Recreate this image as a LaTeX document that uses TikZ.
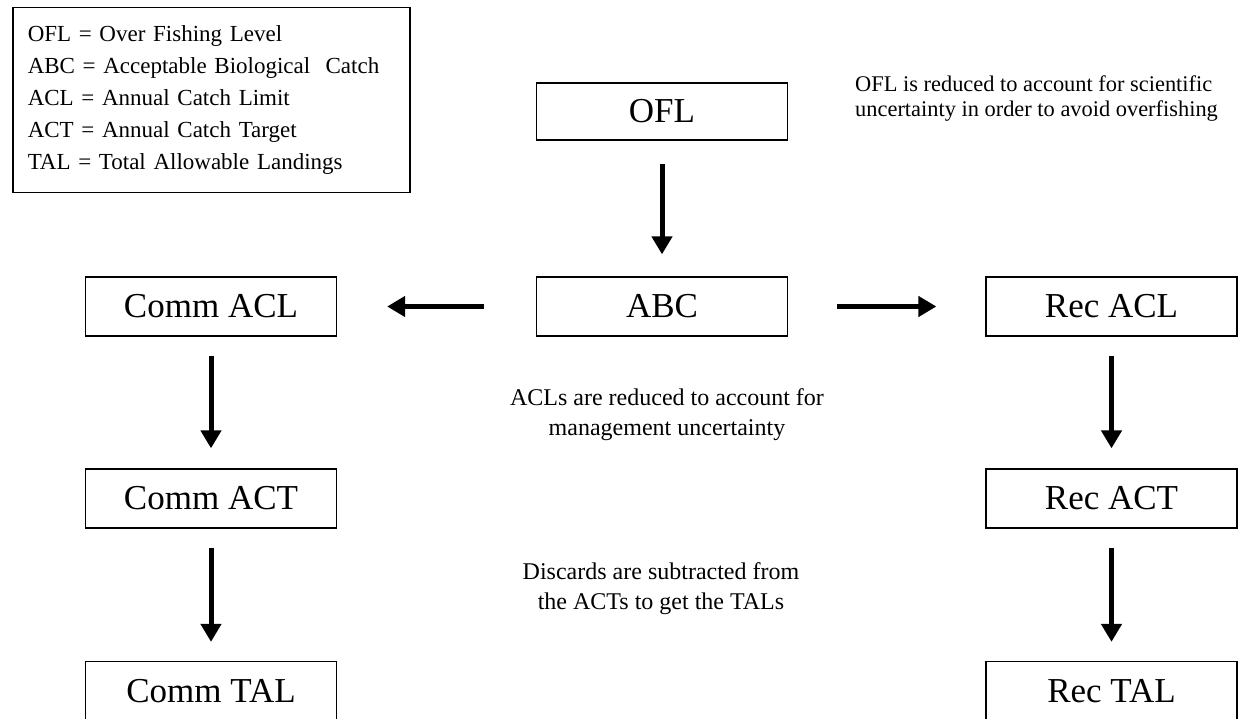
\documentclass[tikz,border=0pt]{standalone}
\usepackage{fontspec}
\setmainfont{Liberation Serif}
\usetikzlibrary{arrows.meta}
\begin{document}
\begin{tikzpicture}[x=1pt,y=-1pt,
  stagebox/.style={draw, line width=1.3pt, inner sep=0pt, minimum width=251pt, minimum height=59pt, font=\fontsize{35}{40}\selectfont},
  legendbox/.style={draw, line width=1.5pt, align=left, text width=367pt, inner xsep=15pt, inner ysep=0pt, minimum height=185pt, font=\fontsize{23}{32}\selectfont},
  note/.style={inner sep=0pt, font=\fontsize{24}{30}\selectfont},
  flow/.style={line width=5pt, -{Triangle[length=18pt,width=20pt]}}
]
\useasboundingbox (0,0) rectangle (1248,719);

\node[legendbox, anchor=north west] (legend) at (12,7) {OFL = Over Fishing Level\\ABC = Acceptable Biological\ \ Catch\\ACL = Annual Catch Limit\\ACT = Annual Catch Target\\TAL = Total Allowable Landings};

\node[stagebox, minimum height=57pt] (ofl) at (662,111.5) {OFL};
\node[stagebox] (abc) at (662,306.5) {ABC};
\node[stagebox] (cacl) at (211,306.5) {Comm ACL};
\node[stagebox] (racl) at (1111.5,306.5) {Rec ACL};
\node[stagebox] (cact) at (211,498.5) {Comm ACT};
\node[stagebox] (ract) at (1111.5,498.5) {Rec ACT};
\node[stagebox] (ctal) at (211,691) {Comm TAL};
\node[stagebox] (rtal) at (1111.5,691) {Rec TAL};

\node[note, font=\fontsize{22.4}{25}\selectfont, align=left, anchor=west] (n1) at (855,99) {OFL is reduced to account for scientific\\uncertainty in order to avoid overfishing};
\node[note, align=center] (n2) at (667,415) {ACLs are reduced to account for\\management uncertainty};
\node[note, align=center] (n3) at (661,589) {Discards are subtracted from\\ the ACTs to get the TALs};

\draw[flow, shorten <=23pt, shorten >=22pt] (ofl.south) -- (abc.north);
\draw[flow, shorten <=52pt, shorten >=50pt] (abc.west) -- (cacl.east);
\draw[flow, shorten <=49pt, shorten >=49pt] (abc.east) -- (racl.west);
\draw[flow, shorten <=19pt, shorten >=20pt] (cacl.south) -- (cact.north);
\draw[flow, shorten <=19pt, shorten >=20pt] (racl.south) -- (ract.north);
\draw[flow, shorten <=19pt, shorten >=19pt] (cact.south) -- (ctal.north);
\draw[flow, shorten <=19pt, shorten >=19pt] (ract.south) -- (rtal.north);
\end{tikzpicture}
\end{document}
